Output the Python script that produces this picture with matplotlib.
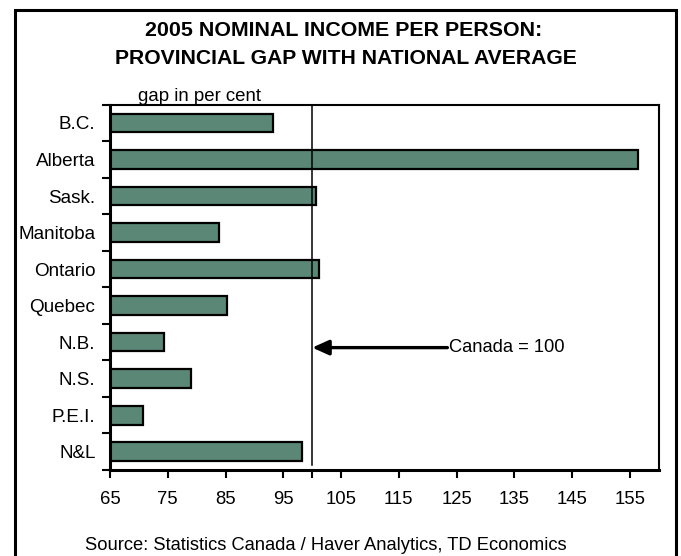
import matplotlib.pyplot as plt
from matplotlib.patches import Rectangle

plt.rcParams['font.family'] = ['Liberation Sans', 'DejaVu Sans']

# provinces top to bottom, income per person as % of national average
provinces = ['B.C.', 'Alberta', 'Sask.', 'Manitoba', 'Ontario',
             'Quebec', 'N.B.', 'N.S.', 'P.E.I.', 'N&L']
gap = [93.2, 156.4, 100.6, 83.9, 101.2, 85.3, 74.4, 79.0, 70.8, 98.3]
canada = 100
xticks = [65, 75, 85, 95, 105, 115, 125, 135, 145, 155]

fig = plt.figure(figsize=(6.81, 5.56), dpi=100)
ax = fig.add_axes([0.1615, 0.1547, 0.806, 0.657])

pos = list(range(len(provinces)))
ax.barh(pos, [g - 65 for g in gap], left=65, height=0.51,
        color='#5a8776', edgecolor='black', linewidth=1.6, zorder=2)

# national average line
ax.plot([canada, canada], [-0.5, 9.35], color='black', lw=1.1, zorder=3)
ax.annotate('', xy=(canada, 6.15), xytext=(123.4, 6.15),
            arrowprops=dict(arrowstyle='-|>,head_length=1.0,head_width=0.45',
                            color='black', lw=2.4, shrinkA=0, shrinkB=0))
ax.text(123.6, 6.15, 'Canada = 100', fontsize=13.2, va='center', ha='left')

ax.set_xlim(65, 160)
ax.set_ylim(9.5, -0.5)
ax.set_xticks(xticks)
ax.set_xticks([canada], minor=True)
ax.tick_params(axis='x', which='both', direction='out', length=6, width=1.5,
               labelsize=13.3, pad=9)
ax.set_yticks(pos)
ax.set_yticklabels(provinces)
ax.set_yticks([p - 0.5 for p in pos] + [9.5], minor=True)
ax.tick_params(axis='y', which='major', length=0, labelsize=13.6, pad=10.5)
ax.tick_params(axis='y', which='minor', direction='out', length=6, width=1.5)

for side in ['left', 'bottom']:
    ax.spines[side].set_linewidth(2.2)
for side in ['top', 'right']:
    ax.spines[side].set_linewidth(1.5)

fig.text(0.505, 0.946, '2005 NOMINAL INCOME PER PERSON:', ha='center',
         va='center', fontsize=15.4, fontweight='bold')
fig.text(0.508, 0.894, 'PROVINCIAL GAP WITH NATIONAL AVERAGE', ha='center',
         va='center', fontsize=15.2, fontweight='bold')
fig.text(0.293, 0.826, 'gap in per cent', ha='center', va='center',
         fontsize=13.4)
fig.text(0.478, 0.018, 'Source: Statistics Canada / Haver Analytics, TD Economics',
         ha='center', va='center', fontsize=13.2)

# outer frame, open at the bottom edge
fig.patches.append(Rectangle((0.0213, -0.05), 0.972, 1.032,
                             transform=fig.transFigure, fill=False,
                             edgecolor='black', linewidth=2.2))

fig.savefig('out.png', dpi=100)
